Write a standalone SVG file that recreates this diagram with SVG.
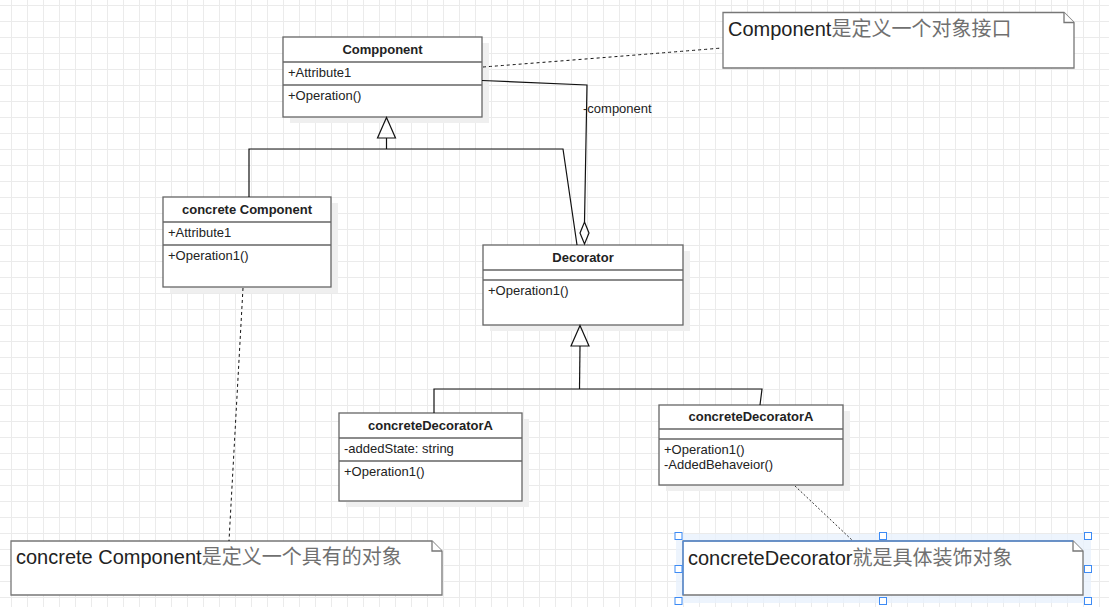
<svg xmlns="http://www.w3.org/2000/svg" width="1109" height="607" viewBox="0 0 1109 607">
  <defs>
    <pattern id="grid" x="11" y="5" width="16" height="16" patternUnits="userSpaceOnUse">
      <path d="M0 .5H16M.5 0V16" fill="none" stroke="#ebebeb" stroke-width="1"/>
    </pattern>
    <style>
      .box { fill: #ffffff; stroke: #666666; stroke-width: 1.3; }
      .shadow { fill: #efefef; }
      .sep { stroke: #666666; stroke-width: 1.3; fill: none; }
      .title { font-family: "Liberation Sans", Arial, sans-serif; font-size: 13px; font-weight: bold; fill: #222222; text-anchor: middle; }
      .member { font-family: "Liberation Sans", Arial, sans-serif; font-size: 13px; fill: #222222; }
      .note { fill: #ffffff; stroke: #777777; stroke-width: 1.3; }
      .notetext { font-family: "Liberation Sans", Arial, "Noto Sans CJK SC", sans-serif; font-size: 20px; fill: #222222; }
      .cjk { font-family: "Noto Sans CJK SC", sans-serif; fill: #707070; }
      .edge { fill: none; stroke: #111111; stroke-width: 1.2; }
      .dash { fill: none; stroke: #111111; stroke-width: 1; stroke-dasharray: 3 3; }
      .dashfine { fill: none; stroke: #333333; stroke-width: 1; stroke-dasharray: 2 2; }
      .handle { fill: #ffffff; stroke: #3d8bf5; stroke-width: 1; }
    </style>
  </defs>

  <rect width="1109" height="607" fill="#ffffff"/>
  <rect width="1109" height="607" fill="url(#grid)"/>

  <!-- class: Compponent -->
  <g id="compponent">
    <rect class="shadow" x="290" y="43" width="199" height="80"/>
    <rect class="box" x="283" y="37" width="199" height="80"/>
    <path class="sep" d="M283 62H482M283 85H482"/>
    <text class="title" x="382.5" y="54">Compponent</text>
    <text class="member" x="288" y="77">+Attribute1</text>
    <text class="member" x="288" y="100">+Operation()</text>
  </g>

  <!-- class: concrete Component -->
  <g id="concrete-component">
    <rect class="shadow" x="170" y="203" width="168" height="90"/>
    <rect class="box" x="163" y="197" width="168" height="90"/>
    <path class="sep" d="M163 222H331M163 245H331"/>
    <text class="title" x="247" y="214">concrete Component</text>
    <text class="member" x="168" y="237">+Attribute1</text>
    <text class="member" x="168" y="260">+Operation1()</text>
  </g>

  <!-- class: Decorator -->
  <g id="decorator">
    <rect class="shadow" x="490" y="251" width="200" height="80"/>
    <rect class="box" x="483" y="245" width="200" height="80"/>
    <path class="sep" d="M483 270H683M483 280H683"/>
    <text class="title" x="583" y="262">Decorator</text>
    <text class="member" x="488" y="295">+Operation1()</text>
  </g>

  <!-- class: concreteDecoratorA (state) -->
  <g id="concrete-decorator-a1">
    <rect class="shadow" x="346" y="419" width="183" height="88"/>
    <rect class="box" x="339" y="413" width="183" height="88"/>
    <path class="sep" d="M339 438H522M339 461H522"/>
    <text class="title" x="430.5" y="430">concreteDecoratorA</text>
    <text class="member" x="344" y="453">-addedState: string</text>
    <text class="member" x="344" y="476">+Operation1()</text>
  </g>

  <!-- class: concreteDecoratorA (behaviour) -->
  <g id="concrete-decorator-a2">
    <rect class="shadow" x="666" y="411" width="184" height="80"/>
    <rect class="box" x="659" y="405" width="184" height="80"/>
    <path class="sep" d="M659 429H843M659 439H843"/>
    <text class="title" x="751" y="421">concreteDecoratorA</text>
    <text class="member" x="664" y="454">+Operation1()</text>
    <text class="member" x="664" y="469">-AddedBehaveior()</text>
  </g>

  <!-- note: Component -->
  <g id="note-component">
    <path class="note" d="M723 12.5H1064L1074 22.5V68H723Z"/>
    <path class="note" d="M1064 12.5V22.5H1074" fill="none"/>
    <text class="notetext" x="728" y="36">Component<tspan class="cjk">是定义一个对象接口</tspan></text>
  </g>

  <!-- note: concrete Component -->
  <g id="note-concrete-component">
    <path class="note" d="M11 541H432L442 551V595H11Z"/>
    <path class="note" d="M432 541V551H442" fill="none"/>
    <text class="notetext" x="16" y="564">concrete Component<tspan class="cjk">是定义一个具有的对象</tspan></text>
  </g>

  <!-- note: concreteDecorator (selected) -->
  <g id="note-concrete-decorator">
    <rect x="676" y="534" width="415" height="69" fill="#e9f1fd" opacity="0.8"/>
    <path class="note" d="M683 541H1073L1083 551V595H683Z"/>
    <path class="note" d="M1073 541V551H1083" fill="none"/>
    <path d="M1073 541H683V595" fill="none" stroke="#3d8bf5" stroke-width="1"/>
    <text class="notetext" x="688" y="565">concreteDecorator<tspan class="cjk">就是具体装饰对象</tspan></text>
    <rect class="handle" x="675" y="532.5" width="7" height="7"/>
    <rect class="handle" x="879.5" y="532.5" width="7" height="7"/>
    <rect class="handle" x="1084.5" y="532.5" width="7" height="7"/>
    <rect class="handle" x="675" y="565.5" width="7" height="7"/>
    <rect class="handle" x="1084.5" y="565.5" width="7" height="7"/>
    <rect class="handle" x="675" y="597.5" width="7" height="7"/>
    <rect class="handle" x="879.5" y="597.5" width="7" height="7"/>
    <rect class="handle" x="1084.5" y="597.5" width="7" height="7"/>
  </g>

  <!-- connectors -->
  <g id="connectors">
    <!-- generalization: concrete Component / Decorator -> Compponent -->
    <path class="edge" d="M249 197V149H563L577 245"/>
    <path class="edge" d="M386.5 149V138"/>
    <path class="edge" d="M386.5 117.5L395.5 138H377.5Z" fill="#ffffff"/>

    <!-- aggregation: Decorator holds a component -->
    <path class="edge" d="M482 80.5L587 85L584.5 222"/>
    <path class="edge" d="M584.5 222L589 233L584.5 244L580 233Z" fill="#ffffff"/>
    <text class="member" x="583" y="113" fill="#333333">-component</text>

    <!-- generalization: concreteDecoratorA x2 -> Decorator -->
    <path class="edge" d="M434 413V389H762L760 405"/>
    <path class="edge" d="M580 346L579.5 389"/>
    <path class="edge" d="M580 325.5L589 346H571Z" fill="#ffffff"/>

    <!-- note links -->
    <path class="dash" d="M483 67Q600 58 722 48"/>
    <path class="dash" d="M243 288L229 541"/>
    <path class="dashfine" d="M795 486L853 541"/>
  </g>
</svg>
